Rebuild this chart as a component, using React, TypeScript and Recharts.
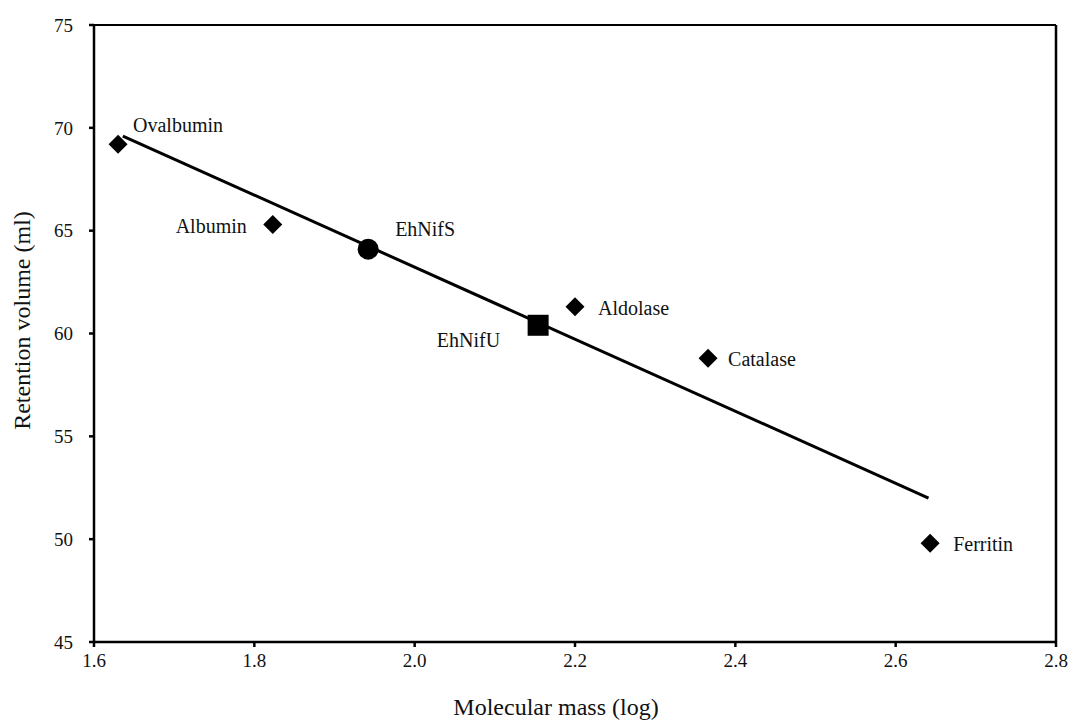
import React from 'react';
import {
  ScatterChart,
  Scatter,
  XAxis,
  YAxis,
  ReferenceLine,
} from 'recharts';

// calibration standards (log molecular mass vs retention volume)
const standardNames = ['Ovalbumin', 'Albumin', 'Aldolase', 'Catalase', 'Ferritin'];
const standardLogMass = [1.63, 1.823, 2.2, 2.366, 2.643];
const standardVolume = [69.2, 65.3, 61.3, 58.8, 49.8];

const nifSName = 'EhNifS';
const nifSLogMass = 1.942;
const nifSVolume = 64.1;

const nifUName = 'EhNifU';
const nifULogMass = 2.154;
const nifUVolume = 60.4;

// regression line end points
const fitLogMass = [1.636, 2.641];
const fitVolume = [69.6, 52.0];

const xTicks = [1.6, 1.8, 2.0, 2.2, 2.4, 2.6, 2.8];
const yTicks = [45, 50, 55, 60, 65, 70, 75];

const FONT = '"Liberation Serif", "Times New Roman", serif';

// where each name sits relative to its marker
const labelPlacement: Record<string, { dx: number; dy: number; anchor: 'start' | 'end' }> = {
  Ovalbumin: { dx: 15, dy: -19, anchor: 'start' },
  Albumin: { dx: -26, dy: 2, anchor: 'end' },
  Aldolase: { dx: 23, dy: 1, anchor: 'start' },
  Catalase: { dx: 20, dy: 1, anchor: 'start' },
  Ferritin: { dx: 23, dy: 1, anchor: 'start' },
  EhNifS: { dx: 27, dy: -20, anchor: 'start' },
  EhNifU: { dx: -38, dy: 15, anchor: 'end' },
};

const standards = standardNames.map((name, i) => ({
  name,
  x: standardLogMass[i],
  y: standardVolume[i],
}));
const nifS = [{ name: nifSName, x: nifSLogMass, y: nifSVolume }];
const nifU = [{ name: nifUName, x: nifULogMass, y: nifUVolume }];
const fitLine = fitLogMass.map((x, i) => ({ x, y: fitVolume[i] }));

const PointLabel = ({ cx, cy, name }: { cx: number; cy: number; name: string }) => {
  const p = labelPlacement[name] || { dx: 15, dy: 0, anchor: 'start' };
  return (
    <text
      x={cx + p.dx}
      y={cy + p.dy}
      textAnchor={p.anchor}
      dominantBaseline="central"
      fontFamily={FONT}
      fontSize={20}
      fill="#111"
    >
      {name}
    </text>
  );
};

const Diamond = (props: any) => {
  const { cx, cy, payload } = props;
  const r = 9.5;
  return (
    <g>
      <path d={`M${cx},${cy - r}L${cx + r},${cy}L${cx},${cy + r}L${cx - r},${cy}Z`} fill="#000" />
      <PointLabel cx={cx} cy={cy} name={payload.name} />
    </g>
  );
};

const Circle = (props: any) => {
  const { cx, cy, payload } = props;
  return (
    <g>
      <circle cx={cx} cy={cy} r={10.5} fill="#000" />
      <PointLabel cx={cx} cy={cy} name={payload.name} />
    </g>
  );
};

const Square = (props: any) => {
  const { cx, cy, payload } = props;
  const s = 21;
  return (
    <g>
      <rect x={cx - s / 2} y={cy - s / 2} width={s} height={s} fill="#000" />
      <PointLabel cx={cx} cy={cy} name={payload.name} />
    </g>
  );
};

const tickStyle = { fontFamily: FONT, fontSize: 19, fill: '#111' };

export default function App() {
  return (
    <div style={{ position: 'absolute', left: 0, top: 0, width: 1068, height: 720, background: '#fff' }}>
      <ScatterChart
        width={1068}
        height={720}
        margin={{ top: 25, right: 12, left: 0, bottom: 0 }}
      >
        <XAxis
          type="number"
          dataKey="x"
          domain={[1.6, 2.8]}
          ticks={xTicks}
          tickFormatter={(v: number) => v.toFixed(1)}
          tick={tickStyle}
          tickSize={5}
          tickMargin={7}
          height={78}
          stroke="#000"
          strokeWidth={2.5}
          allowDataOverflow
          label={{
            content: (p: any) => {
              const vb = p.viewBox;
              return (
                <text
                  x={vb.x + vb.width / 2 - 19}
                  y={vb.y + vb.height - 13}
                  textAnchor="middle"
                  dominantBaseline="central"
                  fontFamily={FONT}
                  fontSize={24}
                  fill="#111"
                >
                  Molecular mass (log)
                </text>
              );
            },
          }}
        />
        <YAxis
          type="number"
          dataKey="y"
          domain={[45, 75]}
          ticks={yTicks}
          tick={tickStyle}
          tickSize={5}
          tickMargin={16}
          width={94}
          stroke="#000"
          strokeWidth={2.5}
          allowDataOverflow
          label={{
            content: (p: any) => {
              const vb = p.viewBox;
              const cx = 22;
              const cy = vb.y + vb.height / 2 - 13;
              return (
                <text
                  x={cx}
                  y={cy}
                  transform={`rotate(-90 ${cx} ${cy})`}
                  textAnchor="middle"
                  dominantBaseline="central"
                  fontFamily={FONT}
                  fontSize={24}
                  fill="#111"
                >
                  Retention volume (ml)
                </text>
              );
            },
          }}
        />
        <ReferenceLine y={75} stroke="#000" strokeWidth={2} />
        <ReferenceLine x={2.8} stroke="#000" strokeWidth={2.5} />
        <Scatter
          data={fitLine}
          line={{ stroke: '#000', strokeWidth: 3 }}
          shape={() => <g />}
          isAnimationActive={false}
        />
        <Scatter data={standards} shape={Diamond} isAnimationActive={false} />
        <Scatter data={nifS} shape={Circle} isAnimationActive={false} />
        <Scatter data={nifU} shape={Square} isAnimationActive={false} />
      </ScatterChart>
    </div>
  );
}
